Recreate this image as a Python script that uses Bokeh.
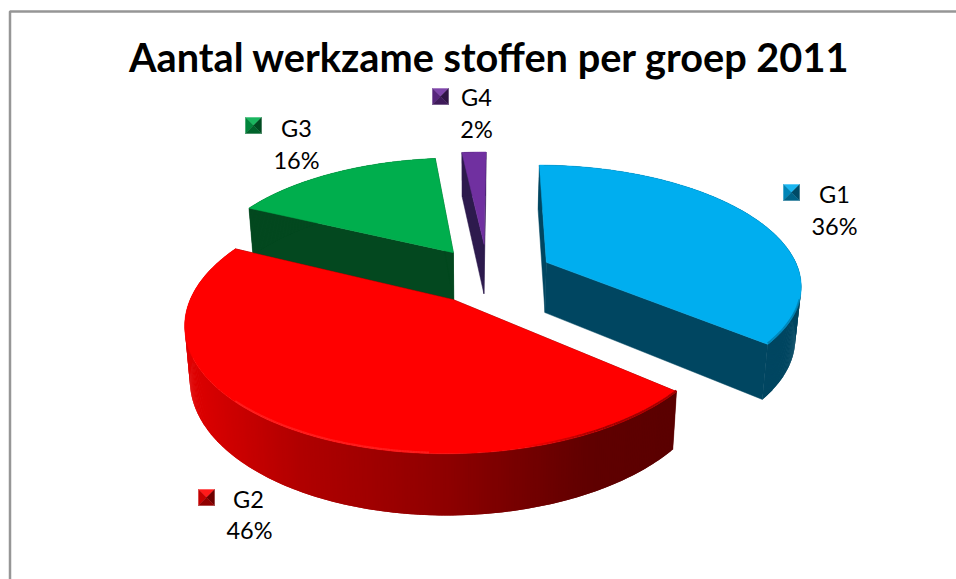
import math
from bokeh.plotting import figure
from bokeh.models import Range1d
from bokeh.core.properties import value
from bokeh.embed import file_html
from bokeh.resources import INLINE

title = "Aantal werkzame stoffen per groep 2011"
groups = ["G1", "G2", "G3", "G4"]
shares = [36.0, 46.0, 16.15, 1.85]
pct_labels = ["36%", "46%", "16%", "2%"]
top_colors = ["#00aeef", "#ff0000", "#00ae4d", "#7030a0"]
side_colors = ["#004661", "#5c0000", "#03481f", "#2d1a4d"]

# layout of the perspective disc
CX, CY, A, B, K = 487, 274.5, 254, 118, 0.172
EXPLODE = [0.26, 0.24, 0.24, 0.27]
THETA0 = 0.4
FONT = "Lato"

# label layout: key box left/top, name centre, percent centre
key_pos = [(783, 184), (198, 489), (245, 117), (432, 88)]
name_pos = [(834, 193), (248, 498), (296, 127), (476, 96)]
pct_pos = [(834, 225), (249, 529), (296, 159), (476, 128)]

def proj(X, Y):
    d = 1 - K * Y
    return CX + A * X / d, CY + B * Y / d

def drop(pt):
    x, y = pt
    return x - 0.018 * (x - 470), y + 52.5 + 0.06 * (y - 300)

def mix(c1, c2, t):
    return "#" + "".join("%02x" % round(a + (b - a) * t) for a, b in zip(c1, c2))

def rgb(h):
    return tuple(int(h[j:j + 2], 16) for j in (1, 3, 5))

RED_STOPS = [(185, (224, 0, 0)), (300, (176, 0, 0)), (447, (142, 0, 0)), (590, (96, 0, 0)), (680, (90, 0, 0))]
def red_rgb(x):
    for (x1, c1), (x2, c2) in zip(RED_STOPS, RED_STOPS[1:]):
        if x <= x2:
            t = max(0, (x - x1) / (x2 - x1))
            return tuple(a + (b - a) * t for a, b in zip(c1, c2))
    return RED_STOPS[-1][1]

p = figure(width=956, height=579, output_backend="svg", toolbar_location=None,
           x_range=Range1d(0, 956), y_range=Range1d(579, 0),
           min_border=0, outline_line_color=None, background_fill_color="white")
p.axis.visible = False
p.grid.visible = False

# frame
p.line([9.5, 9.5, 956], [579, 11, 11], line_color="#969696", line_width=2.5)

# slices
slices = []
ang = THETA0
for i, s in enumerate(shares):
    sweep = s * 3.6
    slices.append((i, ang, ang + sweep))
    ang += sweep

for i, a0, a1 in [slices[2], slices[3], slices[0], slices[1]]:
    mid = math.radians((a0 + a1) / 2)
    ox, oy = EXPLODE[i] * math.sin(mid), -EXPLODE[i] * math.cos(mid)
    apex = proj(ox, oy)
    n = max(3, int((a1 - a0) / 0.5))
    rim = []
    for j in range(n + 1):
        t = math.radians(a0 + (a1 - a0) * j / n)
        rim.append(proj(ox + math.sin(t), oy - math.cos(t)))
    low = [drop(q) for q in rim]
    apex_b = drop(apex)
    for c, cb in ((rim[0], low[0]), (rim[-1], low[-1])):
        p.patch([apex[0], c[0], cb[0], apex_b[0]], [apex[1], c[1], cb[1], apex_b[1]],
                fill_color=side_colors[i], line_color=side_colors[i], line_width=0.5)
    xs, ys, cols = [], [], []
    for j in range(n):
        e = min(n, j + 2)
        xs.append([rim[j][0], rim[e][0], low[e][0], low[j][0]])
        ys.append([rim[j][1], rim[e][1], low[e][1], low[j][1]])
        cols.append(mix(red_rgb(rim[j][0]), red_rgb(rim[j][0]), 0) if i == 1 else side_colors[i])
    p.patches(xs, ys, fill_color=cols, line_color=None)
    p.patch([apex[0]] + [q[0] for q in rim], [apex[1]] + [q[1] for q in rim],
            fill_color=top_colors[i], line_color=top_colors[i], line_width=0.5)
    # soft bevel along the front rim
    if i in (0, 1):
        xs, ys, cols, alphas = [], [], [], []
        for j in range(n):
            x = rim[j][0]
            front = rim[j][1] - CY
            if front < 25 or (i == 1 and x < 235):
                continue
            if i == 1 and x < 430:
                col, al = "#ff2e2e", 0.6
            elif i == 1:
                if x < 520:
                    continue
                col, al = mix(rgb("#ff0000"), red_rgb(x), 0.6), min(1.0, (x - 520) / 80)
            else:
                col, al = mix(rgb(top_colors[0]), rgb(side_colors[0]), 0.55), 0.75
            xs.append([rim[j][0], rim[j + 1][0]])
            ys.append([rim[j][1] - 1, rim[j + 1][1] - 1])
            cols.append(col)
            alphas.append(al)
        p.multi_line(xs, ys, line_color=cols, line_width=2, line_alpha=alphas)

# legend keys and labels
KEY = 16
for i, (kx, ky) in enumerate(key_pos):
    cx, cy = kx + KEY / 2, ky + KEY / 2
    base = rgb(top_colors[i])
    dark = tuple(v // 3 for v in base)
    shade = [mix(base, (255, 255, 255), 0.1), mix(base, dark, 0.35), mix(base, dark, 0.85), mix(base, dark, 0.65)]
    corners = [(kx, ky), (kx + KEY, ky), (kx + KEY, ky + KEY), (kx, ky + KEY)]
    order = [(0, 1), (3, 0), (1, 2), (2, 3)]
    p.patches([[corners[a][0], corners[b][0], cx] for a, b in order],
              [[corners[a][1], corners[b][1], cy] for a, b in order],
              fill_color=shade, line_color=shade, line_width=0.4)
    p.text([name_pos[i][0]], [name_pos[i][1]], text=[groups[i]], text_font=value(FONT),
           text_font_size="23.5px", text_align="center", text_baseline="middle", text_color="#000000")
    p.text([pct_pos[i][0]], [pct_pos[i][1]], text=[pct_labels[i]], text_font=value(FONT),
           text_font_size="23.5px", text_align="center", text_baseline="middle", text_color="#000000")

p.text([489], [56], text=[title], text_font=value(FONT), text_font_style="bold",
       text_font_size="39.7px", text_align="center", text_baseline="middle", text_color="#000000")

open("out.html", "w").write(file_html(p, INLINE))
